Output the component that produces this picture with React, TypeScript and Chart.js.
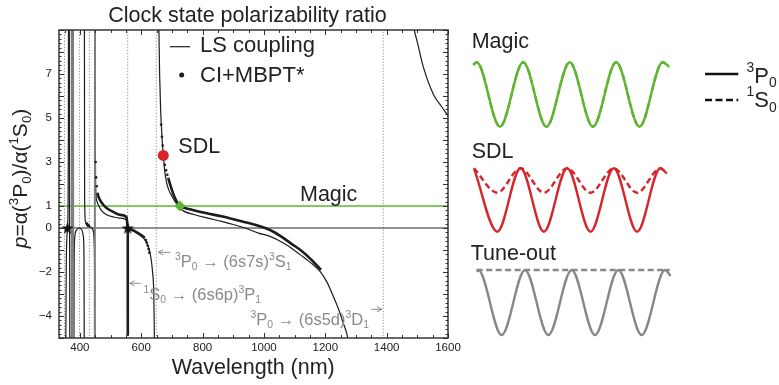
import React, { useEffect, useRef } from 'react';
import { Chart, registerables } from 'chart.js';

Chart.register(...registerables);

const FONT = '"Liberation Sans", Arial, Helvetica, sans-serif';
const INK = '#1c1c1c';
const GRAY_TEXT = '#8a8a8a';
const GREEN = '#5fb531';
const RED = '#d5262b';
const WAVE_GRAY = '#878787';

// ---------------- main panel data ----------------
const xTickValues = [400, 600, 800, 1000, 1200, 1400, 1600];
const yTickValues = [7, 5, 3, 1, 0, -2, -4];
const X_MIN = 332;
const X_MAX = 1600;
const Y_MIN = -5;
const Y_MAX = 9;
const resonanceWavelengths = [350, 399, 431, 556, 649, 1389];
const magicRatio = 1;
const zeroRatio = 0;

// LS coupling branches: [wavelength (nm), p]
const lsBranch354 = [[354, -6], [355.5, -2], [357.5, -0.5], [359.8, 0], [361.5, 1], [362.5, 4], [363, 10]];
const lsBranch366 = [[365.5, 10], [366.2, 2], [366.8, -2], [367.3, -6]];
const lsBranch399 = [[380.5, -6], [381.5, -1.5], [383.5, -0.4], [390, -0.08], [399, 0], [406, -0.08], [411.5, -0.4], [413.5, -1.5], [414.3, -6]];
const lsBranch414 = [[414.8, 10], [415.5, 1.5], [418, 0.3], [425, 0.08], [435, 0.05], [443, -0.1], [446.5, -0.6], [448, -2], [448.8, -6]];
const lsBranch449 = [[449.6, 10], [450.5, 4], [452.2, 1.6], [456, 1.2], [460, 1.06], [470, 0.8], [487, 0.6], [510, 0.5], [530, 0.45], [552, 0.36], [555.8, 0]];
const lsBranch556 = [[556, 0], [563, -0.05], [575, -0.14], [585, -0.23], [596, -0.33], [606.6, -0.45], [615, -0.6], [623, -0.84], [629, -1.15], [634, -1.59], [637, -2.0], [639.2, -2.35], [641, -3.0], [642.5, -4.47], [643.5, -6]];
const lsBranch650 = [[657, 10], [658.2, 8.5], [660, 7.0], [663, 5.5], [667, 4.3], [672, 3.3], [677, 2.55], [683, 2.05], [690, 1.72], [700, 1.45], [710, 1.21], [732, 0.83], [775, 0.6], [820, 0.44], [862, 0.3], [900, 0.16], [938, 0], [982, -0.23], [1020, -0.38], [1062, -0.67], [1090, -0.92], [1118, -1.21], [1150, -1.55], [1183, -1.97], [1205, -2.45], [1226, -3.1], [1245, -3.75], [1258, -4.3], [1270, -4.8], [1280, -5.5]];
const lsBranch1486 = [[1486, 9.3], [1490, 9.0], [1500, 8.45], [1520, 7.3], [1553, 6.06], [1580, 5.5], [1600, 5.1]];

// CI+MBPT branches
const ciBranch449 = [[457.3, 1.6], [460, 1.45], [465, 1.29], [475, 1.08], [487, 0.91], [510, 0.72], [530, 0.6], [552, 0.5], [555.8, 0]];
const ciSpike556 = [[556.2, 0], [556.3, -4.9]];
const ciBranch556 = [[556, 0], [568.7, -0.08], [580, -0.15], [590, -0.23], [600, -0.32], [612, -0.45]];
const ciBranch690 = [[688, 2.28], [695, 1.95], [704.5, 1.55], [715, 1.22], [726, 1.0], [745, 0.9], [765, 0.83], [810, 0.68], [862, 0.53], [920, 0.33], [971, 0.15], [1004, 0], [1031, -0.17], [1063, -0.45], [1090, -0.72], [1118, -0.99], [1150, -1.38], [1186, -1.9]];
const ciPole373 = [[372.5, -6], [373.5, 10]];
const ciPole378 = [[377.6, 10], [378.4, -6]];
const ciPole449 = [[448.7, -6], [449.4, 10]];
const ciDots = [
  [423, 0.2], [426, 0.14], [429, 0.1],
  [451.5, 3.0], [453, 2.3], [455, 1.9],
  [615, -0.55], [618, -0.66], [621, -0.8], [624, -0.96], [626.5, -1.12],
  [665, 4.7], [667.5, 4.15], [670, 3.75], [673.5, 3.25], [677, 2.87], [681, 2.62], [685, 2.42],
];

const clockStars = [[359.8, 0], [556, 0]];
const sdlPoint = [[672, 3.3]];
const magicPoint = [[726, 1.0]];

// ---------------- right panel data (schematic lattices) ----------------
// phase in half-periods (crest at even, trough at odd), amplitude in units of crest
const magicPhase = [-0.15, 0, 1, 2, 3, 4, 5, 6, 7, 8, 8.28];
const magicP0 = [0.92, 1, -1, 1, -1, 1, -1, 1, -1, 1, 0.86];
const magicS0 = [0.92, 1, -1, 1, -1, 1, -1, 1, -1, 1, 0.86];
const sdlPhase = [0, 1, 2, 3, 4, 5, 6, 7, 8, 8.27];
const sdlP0 = [1, -1, 1, -1, 1, -1, 1, -1, 1, 0.84];
const sdlS0 = [1, 0.23, 1, 0.23, 1, 0.23, 1, 0.23, 1, 0.84];
const tunePhase = [-0.07, 0, 1, 2, 3, 4, 5, 6, 7, 8, 8.24];
const tuneP0 = [0.95, 1, -1, 1, -1, 1, -1, 1, -1, 1, 0.82];
const tuneS0Phase = [-0.07, 8.2];
const tuneS0 = [1, 1];

// ---------------- helpers ----------------
type Part = { t: string; s?: 'sup' | 'sub'; i?: boolean };

function pts(arr: number[][]) {
  return arr.map(([x, y]) => ({ x, y }));
}
function zip(xs: number[], ys: number[]) {
  return xs.map((x, i) => ({ x, y: ys[i] }));
}

function drawRich(ctx: CanvasRenderingContext2D, parts: Part[], x: number, y: number, size: number, color: string, align: 'left' | 'center' | 'right' = 'left', sup = 0.45, sub = 0.2) {
  const small = size * 0.63;
  const fontOf = (p: Part) => `${p.i ? 'italic ' : ''}${p.s ? small : size}px ${FONT}`;
  const widths = parts.map((p) => {
    ctx.font = fontOf(p);
    return ctx.measureText(p.t).width;
  });
  const total = widths.reduce((a, b) => a + b, 0);
  let cx = align === 'center' ? x - total / 2 : align === 'right' ? x - total : x;
  ctx.fillStyle = color;
  ctx.textAlign = 'left';
  ctx.textBaseline = 'alphabetic';
  parts.forEach((p, k) => {
    ctx.font = fontOf(p);
    const dy = p.s === 'sup' ? -size * sup : p.s === 'sub' ? size * sub : 0;
    ctx.fillText(p.t, cx, y + dy);
    cx += widths[k];
  });
}

function line(ctx: CanvasRenderingContext2D, x1: number, y1: number, x2: number, y2: number) {
  ctx.beginPath();
  ctx.moveTo(x1, y1);
  ctx.lineTo(x2, y2);
  ctx.stroke();
}

function arrow(ctx: CanvasRenderingContext2D, x1: number, y1: number, x2: number, y2: number) {
  line(ctx, x1, y1, x2, y2);
  const ang = Math.atan2(y2 - y1, x2 - x1);
  const h = 5.5;
  line(ctx, x2, y2, x2 - h * Math.cos(ang - 0.5), y2 - h * Math.sin(ang - 0.5));
  line(ctx, x2, y2, x2 - h * Math.cos(ang + 0.5), y2 - h * Math.sin(ang + 0.5));
}

function makeStar(size: number) {
  const c = document.createElement('canvas');
  c.width = size;
  c.height = size;
  const g = c.getContext('2d')!;
  g.fillStyle = '#111';
  g.beginPath();
  for (let i = 0; i < 10; i++) {
    const r = i % 2 === 0 ? size / 2 : size * 0.2;
    const a = -Math.PI / 2 + (i * Math.PI) / 5;
    g.lineTo(size / 2 + r * Math.cos(a), size / 2 + 0.6 + r * Math.sin(a));
  }
  g.closePath();
  g.fill();
  return c;
}

// ---------------- main plot plugin ----------------
const mainDecor = {
  id: 'mainDecor',
  afterDraw(chart: any) {
    const { ctx, chartArea: a, scales } = chart;
    const xs = scales.x;
    const ys = scales.y;
    ctx.save();
    ctx.strokeStyle = '#333';
    ctx.lineWidth = 1;
    for (let v = 350; v <= X_MAX; v += 50) {
      const px = Math.round(xs.getPixelForValue(v)) + 0.5;
      const len = v % 200 === 0 ? 5 : 3;
      line(ctx, px, a.bottom, px, a.bottom - len);
      line(ctx, px, a.top, px, a.top + len);
    }
    for (let i = Y_MIN * 5; i <= Y_MAX * 5; i++) {
      const py = Math.round(ys.getPixelForValue(i / 5)) + 0.5;
      const len = i % 5 === 0 ? 5 : 2.5;
      line(ctx, a.left, py, a.left + len, py);
      line(ctx, a.right, py, a.right - len, py);
    }
    ctx.lineWidth = 1.4;
    ctx.strokeStyle = '#2a2a2a';
    ctx.strokeRect(a.left, a.top, a.right - a.left, a.bottom - a.top);

    drawRich(ctx, [{ t: 'Clock state polarizability ratio' }], 247.5, 21.7, 21.5, '#222', 'center');
    drawRich(ctx, [{ t: 'Wavelength (nm)' }], 253.3, 374, 21.5, '#222', 'center');
    ctx.save();
    ctx.translate(27, 178.5);
    ctx.rotate(-Math.PI / 2);
    drawRich(ctx, [
      { t: 'p', i: true }, { t: '=α(' }, { t: '3', s: 'sup' }, { t: 'P' }, { t: '0', s: 'sub' },
      { t: ')/α(' }, { t: '1', s: 'sup' }, { t: 'S' }, { t: '0', s: 'sub' }, { t: ')' },
    ], 0, 0, 21, '#222', 'center');
    ctx.restore();

    ctx.strokeStyle = INK;
    ctx.lineWidth = 1.2;
    line(ctx, 170, 46.7, 190, 46.7);
    drawRich(ctx, [{ t: 'LS coupling' }], 200, 51.7, 22, '#222');
    ctx.fillStyle = INK;
    ctx.beginPath();
    ctx.arc(181.7, 75, 2.5, 0, Math.PI * 2);
    ctx.fill();
    drawRich(ctx, [{ t: 'CI+MBPT*' }], 200, 81.7, 22, '#222');

    drawRich(ctx, [{ t: 'SDL' }], 178.3, 152.5, 21.5, '#222');
    drawRich(ctx, [{ t: 'Magic' }], 300, 201, 21.5, '#222');

    ctx.strokeStyle = GRAY_TEXT;
    ctx.lineWidth = 1;
    const x649 = xs.getPixelForValue(649);
    const x556 = xs.getPixelForValue(556);
    const x1389 = xs.getPixelForValue(1389);
    arrow(ctx, x649 + 14, 252.3, x649 + 2, 252.3);
    drawRich(ctx, [{ t: '3', s: 'sup' }, { t: 'P' }, { t: '0', s: 'sub' }, { t: ' → (6s7s)' }, { t: '3', s: 'sup' }, { t: 'S' }, { t: '1', s: 'sub' }], 175, 266.7, 16.5, GRAY_TEXT, 'left', 0.42, 0.18);
    arrow(ctx, x556 + 13, 283.3, x556 + 2, 283.3);
    drawRich(ctx, [{ t: '1', s: 'sup' }, { t: 'S' }, { t: '0', s: 'sub' }, { t: ' → (6s6p)' }, { t: '3', s: 'sup' }, { t: 'P' }, { t: '1', s: 'sub' }], 143.5, 300, 16.5, GRAY_TEXT, 'left', 0.42, 0.18);
    arrow(ctx, x1389 - 12, 309.3, x1389 - 1.5, 309.3);
    drawRich(ctx, [{ t: '3', s: 'sup' }, { t: 'P' }, { t: '0', s: 'sub' }, { t: ' → (6s5d)' }, { t: '3', s: 'sup' }, { t: 'D' }, { t: '1', s: 'sub' }], 250.5, 325, 16.5, GRAY_TEXT, 'left', 0.42, 0.18);
    ctx.restore();
  },
};

// ---------------- right panel plugin ----------------
const RIGHT_LEFT = 460;
const RIGHT_W = 319;
const H = 385;

const waveDecor = {
  id: 'waveDecor',
  afterDraw(chart: any) {
    const { ctx } = chart;
    const ox = -RIGHT_LEFT;
    ctx.save();
    drawRich(ctx, [{ t: 'Magic' }], 471.7 + ox, 48, 21.5, '#222');
    drawRich(ctx, [{ t: 'SDL' }], 471.7 + ox, 158.3, 21.5, '#222');
    drawRich(ctx, [{ t: 'Tune-out' }], 470.7 + ox, 260, 21.5, '#222');
    ctx.strokeStyle = '#111';
    ctx.lineWidth = 2.5;
    line(ctx, 705 + ox, 74, 738.3 + ox, 74);
    ctx.setLineDash([7, 3.5]);
    line(ctx, 705 + ox, 100, 738.3 + ox, 100);
    ctx.setLineDash([]);
    drawRich(ctx, [{ t: '3', s: 'sup' }, { t: 'P' }, { t: '0', s: 'sub' }], 746.5 + ox, 82.7, 22, '#222', 'left', 0.5, 0.21);
    drawRich(ctx, [{ t: '1', s: 'sup' }, { t: 'S' }, { t: '0', s: 'sub' }], 746.5 + ox, 107.3, 22, '#222', 'left', 0.5, 0.21);
    ctx.restore();
  },
};

function xRange(firstCrestPage: number, halfPeriodPx: number) {
  const zero = firstCrestPage - RIGHT_LEFT;
  return { min: -zero / halfPeriodPx, max: (RIGHT_W - zero) / halfPeriodPx };
}
function yRange(crestY: number, troughY: number) {
  const u = (troughY - crestY) / 2;
  const yc = (crestY + troughY) / 2;
  return { min: -(H - yc) / u, max: yc / u };
}

function pointOnly() {
  return { showLine: false, pointHoverRadius: 0, borderWidth: 0 };
}

export default function App() {
  const mainRef = useRef<HTMLCanvasElement>(null);
  const waveRef = useRef<HTMLCanvasElement>(null);

  useEffect(() => {
    Chart.defaults.font.family = FONT;
    const star = makeStar(13);
    const lineBase = { showLine: true, pointRadius: 0, pointHoverRadius: 0, fill: false };
    const lsStyle = { ...lineBase, borderColor: INK, borderWidth: 1.2, cubicInterpolationMode: 'monotone' as const, capBezierPoints: false };
    const ciStyle = { ...lineBase, borderColor: INK, borderWidth: 2.6, cubicInterpolationMode: 'monotone' as const, capBezierPoints: false };
    const poleStyle = { ...lineBase, borderColor: '#7d7d7d', borderWidth: 2 };
    const lsBranches = [lsBranch354, lsBranch366, lsBranch399, lsBranch414, lsBranch449, lsBranch556, lsBranch650, lsBranch1486];
    const ciBranches = [ciBranch449, ciSpike556, ciBranch556, ciBranch690];
    const ciPoles = [ciPole373, ciPole378, ciPole449];

    const main = new Chart(mainRef.current!, {
      type: 'scatter',
      data: {
        datasets: [
          { ...pointOnly(), label: 'stars', data: pts(clockStars), pointStyle: star as any, pointRadius: 7 },
          { ...pointOnly(), label: 'SDL', data: pts(sdlPoint), pointStyle: 'circle', pointRadius: 5.5, backgroundColor: RED, borderColor: RED },
          { ...pointOnly(), label: 'Magic', data: pts(magicPoint), pointStyle: 'rectRot', pointRadius: 5.5, backgroundColor: GREEN, borderColor: GREEN },
          { ...pointOnly(), label: 'CI+MBPT dots', data: pts(ciDots), pointStyle: 'circle', pointRadius: 1.3, backgroundColor: INK },
          ...ciBranches.map((b, k) => ({ ...ciStyle, label: 'CI+MBPT ' + k, data: pts(b) })),
          ...ciPoles.map((b, k) => ({ ...poleStyle, label: 'CI+MBPT pole ' + k, data: pts(b) })),
          ...lsBranches.map((b, k) => ({ ...lsStyle, label: 'LS coupling ' + k, data: pts(b) })),
          { ...lineBase, label: 'magic', data: [{ x: X_MIN, y: magicRatio }, { x: X_MAX, y: magicRatio }], borderColor: GREEN, borderWidth: 1.3 },
          { ...lineBase, label: 'zero', data: [{ x: X_MIN, y: zeroRatio }, { x: X_MAX, y: zeroRatio }], borderColor: '#222', borderWidth: 1 },
          ...resonanceWavelengths.map((w) => ({
            ...lineBase, label: 'resonance ' + w, data: [{ x: w, y: Y_MIN - 1 }, { x: w, y: Y_MAX + 1 }],
            borderColor: '#9a9a9a', borderWidth: 1, borderDash: [1.3, 1.7],
          })),
        ] as any,
      },
      options: {
        responsive: false,
        animation: false,
        devicePixelRatio: 1,
        events: [],
        layout: { padding: { left: 0, top: 30, right: 22, bottom: 0 } },
        plugins: { legend: { display: false }, tooltip: { enabled: false }, title: { display: false } },
        scales: {
          x: {
            type: 'linear', min: X_MIN, max: X_MAX,
            grid: { display: false, drawTicks: false }, border: { display: false },
            ticks: { font: { size: 11.5, family: FONT }, color: '#222', padding: 3, maxRotation: 0, autoSkip: false, callback: (v: any) => String(v) },
            afterBuildTicks: (s: any) => { s.ticks = xTickValues.map((v) => ({ value: v })); },
            afterFit: (s: any) => { s.height = 47; },
          },
          y: {
            type: 'linear', min: Y_MIN, max: Y_MAX,
            grid: { display: false, drawTicks: false }, border: { display: false },
            ticks: {
              font: { size: 11.5, family: FONT }, color: '#222', padding: 7, autoSkip: false,
              callback: (v: any) => (Number(v) < 0 ? '\u2212' + Math.abs(Number(v)) : String(v)),
            },
            afterBuildTicks: (s: any) => { s.ticks = yTickValues.map((v) => ({ value: v })); },
            afterFit: (s: any) => { s.width = 59; },
          },
        },
      } as any,
      plugins: [mainDecor],
    });

    const mX = xRange(476.7, 23.25), sX = xRange(474, 23.3), tX = xRange(478.3, 23.34);
    const mY = yRange(62.3, 126.7), sY = yRange(168.3, 231.7), tY = yRange(270, 335);
    const wave = { showLine: true, pointRadius: 0, fill: false, borderWidth: 2.4, cubicInterpolationMode: 'monotone' as const, capBezierPoints: false };
    const right = new Chart(waveRef.current!, {
      type: 'scatter',
      data: {
        datasets: [
          { ...wave, label: 'Magic 3P0', data: zip(magicPhase, magicP0), borderColor: GREEN, xAxisID: 'xMagic', yAxisID: 'yMagic' },
          { ...wave, label: 'Magic 1S0', data: zip(magicPhase, magicS0), borderColor: GREEN, borderDash: [6, 3.5], xAxisID: 'xMagic', yAxisID: 'yMagic' },
          { ...wave, label: 'SDL 3P0', data: zip(sdlPhase, sdlP0), borderColor: RED, xAxisID: 'xSdl', yAxisID: 'ySdl' },
          { ...wave, label: 'SDL 1S0', data: zip(sdlPhase, sdlS0), borderColor: RED, borderDash: [6, 3.5], xAxisID: 'xSdl', yAxisID: 'ySdl' },
          { ...wave, label: 'Tune 3P0', data: zip(tunePhase, tuneP0), borderColor: WAVE_GRAY, xAxisID: 'xTune', yAxisID: 'yTune' },
          { ...wave, label: 'Tune 1S0', data: zip(tuneS0Phase, tuneS0), borderColor: WAVE_GRAY, borderDash: [6, 3.5], xAxisID: 'xTune', yAxisID: 'yTune' },
        ] as any,
      },
      options: {
        responsive: false,
        animation: false,
        devicePixelRatio: 1,
        events: [],
        layout: { padding: 0 },
        plugins: { legend: { display: false }, tooltip: { enabled: false } },
        scales: {
          xMagic: { type: 'linear', axis: 'x', position: 'bottom', display: false, ...mX },
          xSdl: { type: 'linear', axis: 'x', position: 'bottom', display: false, ...sX },
          xTune: { type: 'linear', axis: 'x', position: 'bottom', display: false, ...tX },
          yMagic: { type: 'linear', axis: 'y', position: 'left', display: false, ...mY },
          ySdl: { type: 'linear', axis: 'y', position: 'left', display: false, ...sY },
          yTune: { type: 'linear', axis: 'y', position: 'left', display: false, ...tY },
        },
      } as any,
      plugins: [waveDecor],
    });

    return () => {
      main.destroy();
      right.destroy();
    };
  }, []);

  return (
    <div style={{ position: 'absolute', left: 0, top: 0, width: 779, height: 385, background: '#fff', overflow: 'hidden' }}>
      <canvas ref={mainRef} width={470} height={385} style={{ position: 'absolute', left: 0, top: 0 }} />
      <canvas ref={waveRef} width={RIGHT_W} height={H} style={{ position: 'absolute', left: RIGHT_LEFT, top: 0 }} />
    </div>
  );
}
